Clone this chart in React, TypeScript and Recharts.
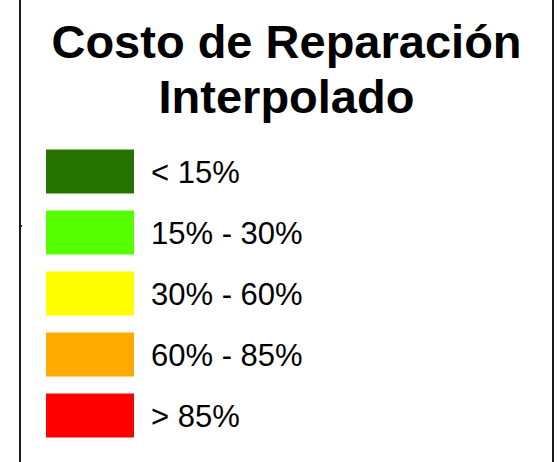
import React from 'react';
import { BarChart, Bar, XAxis, YAxis, Cell, LabelList } from 'recharts';

// Legend classes, top to bottom
const classLabels = ['< 15%', '15% - 30%', '30% - 60%', '60% - 85%', '> 85%'];
const classColors = ['#267300', '#55ff00', '#ffff00', '#ffaa00', '#ff0000'];
// every swatch is a full-width bar
const swatchValues = [1, 1, 1, 1, 1];

const titleLines = ['Costo de Reparación', 'Interpolado'];

const FONT = '"Liberation Sans", Arial, sans-serif';

export default function App() {
  const data = classLabels.map((label, i) => ({
    label,
    value: swatchValues[i],
    color: classColors[i],
  }));

  return (
    <div
      style={{
        position: 'absolute',
        left: 0,
        top: 0,
        width: 558,
        height: 462,
        background: '#fff',
        overflow: 'hidden',
        fontFamily: FONT,
      }}
    >
      {/* frame lines */}
      <div style={{ position: 'absolute', left: 19, top: 0, width: 2, height: 462, background: '#1a1a1a' }} />
      <div style={{ position: 'absolute', left: 21, top: 225, width: 1, height: 2, background: '#1a1a1a' }} />
      <div style={{ position: 'absolute', left: 552, top: 0, width: 2, height: 462, background: '#1a1a1a' }} />

      {/* title */}
      <div
        style={{
          position: 'absolute',
          left: 20,
          top: 14,
          width: 533,
          textAlign: 'center',
          fontWeight: 700,
          fontSize: 47,
          lineHeight: '55px',
          color: '#000',
        }}
      >
        {titleLines.map((t) => (
          <div key={t}>{t}</div>
        ))}
      </div>

      <div style={{ position: 'absolute', left: 0, top: 0 }}>
        <BarChart
          width={558}
          height={462}
          data={data}
          layout="vertical"
          margin={{ top: 140.5, right: 424, bottom: 16.5, left: 46 }}
        >
          <XAxis type="number" domain={[0, 1]} hide />
          <YAxis type="category" dataKey="label" hide />
          <Bar dataKey="value" barSize={44} isAnimationActive={false}>
            {data.map((d, i) => (
              <Cell key={`cell-${i}`} fill={d.color} />
            ))}
            <LabelList
              dataKey="label"
              position="right"
              offset={17}
              fill="#000"
              fontSize={31}
              fontFamily={FONT}
            />
          </Bar>
        </BarChart>
      </div>
    </div>
  );
}
